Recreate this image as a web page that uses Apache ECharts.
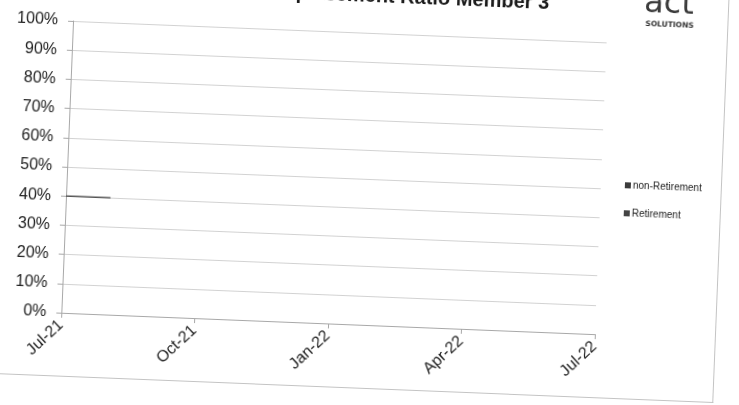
<!DOCTYPE html>
<html>
<head>
<meta charset="utf-8">
<script src="https://cdn.jsdelivr.net/npm/echarts@6/dist/echarts.min.js"></script>
<style>
html, body { margin: 0; padding: 0; background: #fff; overflow: hidden; }
#page { position: absolute; left: 0; top: 0; width: 739px; height: 405px;
        transform: rotate(2.3deg); transform-origin: 369.5px 202.5px; }
#chart { position: absolute; left: 0; top: -30px; width: 720px; height: 418px;
         border-right: 1px solid #c4c4c4; border-bottom: 1px solid #c4c4c4; }
</style>
</head>
<body>
<div id="page"><div id="chart"></div></div>
<script>
// months on the x axis, labels shown every quarter
var months = ['Jul-21', 'Aug-21', 'Sep-21', 'Oct-21', 'Nov-21', 'Dec-21',
              'Jan-22', 'Feb-22', 'Mar-22', 'Apr-22', 'May-22', 'Jun-22', 'Jul-22'];
var nonRetirement = [40, 40];
var retirement = [];
var yTicks = [0, 100, 10];

var myChart = echarts.init(document.getElementById('chart'));

option = {
    animation: false,
    title: {
        text: 'Replacement Ratio Member 3',
        right: 174,
        top: 11,
        textStyle: { fontFamily: 'Liberation Sans', fontSize: 20, fontWeight: 'bold', color: '#1a1a1a' }
    },
    graphic: [
        { type: 'text', left: 636, top: 7,
          style: { text: 'act', font: '32px "DejaVu Sans"', fill: '#3a3a3a' } },
        { type: 'text', left: 638, top: 39,
          style: { text: 'SOLUTIONS', font: 'bold 7.5px "DejaVu Sans"', fill: '#333' } }
    ],
    legend: {
        orient: 'vertical',
        left: 619,
        top: 195,
        itemGap: 18,
        itemWidth: 6,
        itemHeight: 6,
        icon: 'rect',
        textStyle: { fontFamily: 'Liberation Sans', fontSize: 10, color: '#222', padding: [0, 0, 0, -3] },
        data: ['non-Retirement', 'Retirement']
    },
    grid: { left: 66, top: 63, right: 120, bottom: 63 },
    xAxis: {
        type: 'category',
        data: months,
        boundaryGap: false,
        axisLine: { lineStyle: { color: '#a8a8a8' } },
        axisTick: { interval: 2, length: 5, lineStyle: { color: '#a8a8a8' } },
        axisLabel: { interval: 2, rotate: 45, fontFamily: 'Liberation Sans', fontSize: 16, color: '#222', margin: 10 },
        splitLine: { show: false }
    },
    yAxis: {
        type: 'value',
        min: yTicks[0],
        max: yTicks[1],
        interval: yTicks[2],
        axisLine: { show: true, lineStyle: { color: '#a8a8a8' } },
        axisTick: { show: true, length: 5, lineStyle: { color: '#a8a8a8' } },
        axisLabel: { formatter: '{value}%', fontFamily: 'Liberation Sans', fontSize: 16, color: '#222', margin: 15 },
        splitLine: { lineStyle: { color: '#d2d2d2' } }
    },
    series: [
        {
            name: 'non-Retirement',
            type: 'line',
            data: nonRetirement,
            symbol: 'none',
            itemStyle: { color: '#3c3c3c' },
            lineStyle: { color: '#555', width: 1.5 }
        },
        {
            name: 'Retirement',
            type: 'line',
            data: retirement,
            symbol: 'none',
            itemStyle: { color: '#444' },
            lineStyle: { color: '#444', width: 1.5 }
        }
    ]
};

myChart.setOption(option);
</script>
</body>
</html>
